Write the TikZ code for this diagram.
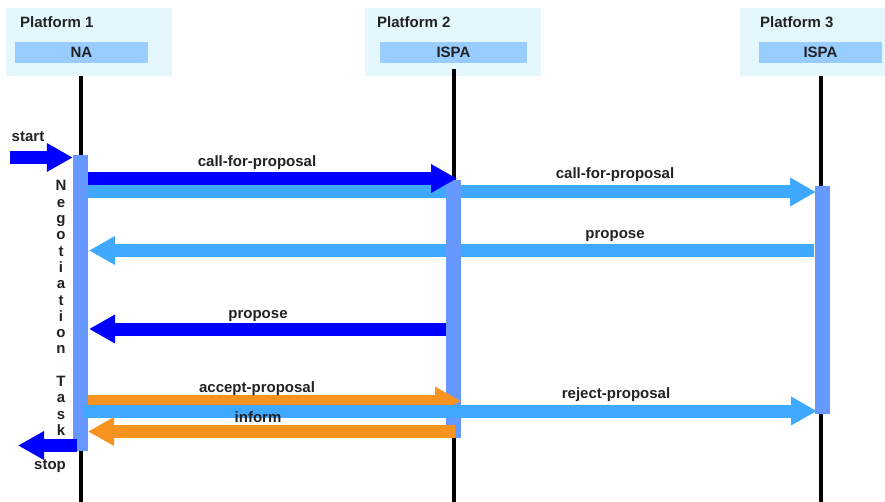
\documentclass[tikz,border=0pt]{standalone}
\usepackage{fontspec}
\setmainfont{Liberation Sans}
\usetikzlibrary{arrows.meta}
\definecolor{fondplateforme}{HTML}{E3F7FD}
\definecolor{fondagent}{HTML}{99CCFF}
\definecolor{activite}{HTML}{6699FF}
\definecolor{bleufonce}{HTML}{0000FF}
\definecolor{bleuclair}{HTML}{3FA9FF}
\definecolor{orangemsg}{HTML}{F7931E}
\definecolor{encre}{HTML}{222222}
\begin{document}
\begin{tikzpicture}[x=1pt,y=-1pt]
% Styles
\tikzstyle{texte}=[font=\fontsize{15}{16.3}\selectfont\bfseries,text=encre,inner sep=0pt]
\tikzstyle{agent}=[texte,fill=fondagent,minimum height=21pt]
\tikzstyle{vie}=[line width=3.5pt,black]
\tikzstyle{barre}=[fill=activite,minimum width=15pt,inner sep=0pt]
\tikzstyle{fleche}=[-{Triangle[length=26pt,width=27pt]},line width=13pt]
% Cadre
\useasboundingbox (0,0) rectangle (885,502);
% Plateformes
\fill[fondplateforme] (6,8) rectangle (172,76);
\fill[fondplateforme] (365,8) rectangle (541,76);
\fill[fondplateforme] (740,8) rectangle (885,76);
\node[texte,anchor=west] (titre1) at (20,22) {Platform 1};
\node[texte,anchor=west] (titre2) at (377,22) {Platform 2};
\node[texte,anchor=west] (titre3) at (760,22) {Platform 3};
\node[agent,minimum width=133pt] (agent1) at (81.5,52.5) {NA};
\node[agent,minimum width=147pt] (agent2) at (453.5,52.5) {ISPA};
\node[agent,minimum width=123pt] (agent3) at (820.5,52.5) {ISPA};
% Lignes de vie
\draw[vie] (81,76) -- (81,502);
\draw[vie] (454,69) -- (454,502);
\draw[vie] (821,76) -- (821,502);
% Extrémités des messages
\coordinate (debut) at (10,157.5);
\coordinate (fin) at (77,445.5);
\coordinate (cfpA) at (88,178.5);
\coordinate (cfpB) at (457,178.5);
\coordinate (cfpC) at (88,192);
\coordinate (cfpD) at (816,192);
\coordinate (propA) at (814,250.5);
\coordinate (propB) at (89,250.5);
\coordinate (propC) at (446,329);
\coordinate (propD) at (89,329);
\coordinate (accA) at (88,401);
\coordinate (accB) at (461,401);
\coordinate (rejA) at (83,411);
\coordinate (rejB) at (817,411);
\coordinate (infA) at (455,431.5);
\coordinate (infB) at (88,431.5);
% Messages vers Platform 3
\draw[fleche,bleuclair] (cfpC) -- (cfpD);
\draw[fleche,bleuclair] (propA) -- (propB);
% Activités
\node[barre,minimum height=296pt] (act1) at (80.5,303) {};
\node[barre,minimum height=258pt] (act2) at (453.5,309) {};
\node[barre,minimum height=228pt] (act3) at (822,300) {};
% Messages
\draw[fleche,bleufonce] (debut) -- (act1.west |- debut);
\draw[fleche,bleufonce] (cfpA) -- (cfpB);
\draw[fleche,bleufonce] (propC) -- (propD);
\draw[fleche,orangemsg] (accA) -- (accB);
\draw[fleche,bleuclair] (rejA) -- (rejB);
\draw[fleche,orangemsg] (infA) -- (infB);
\draw[fleche,bleufonce] (fin) -- (18,445.5);
% Étiquettes
\node[texte] (lstart) at (28,137) {start};
\node[texte] (lstop) at (50,466) {stop};
\node[texte] (lcfp1) at (257,163) {call-for-proposal};
\node[texte] (lcfp2) at (615,175) {call-for-proposal};
\node[texte] (lprop1) at (615,236) {propose};
\node[texte] (lprop2) at (258,316) {propose};
\node[texte] (lacc) at (257,389) {accept-proposal};
\node[texte] (linf) at (258,417) {inform};
\node[texte] (lrej) at (616,395) {reject-proposal};
\node[texte,align=center] (tache) at (61,308) {N\\e\\g\\o\\t\\i\\a\\t\\i\\o\\n\\\mbox{}\\T\\a\\s\\k};
\end{tikzpicture}
\end{document}
